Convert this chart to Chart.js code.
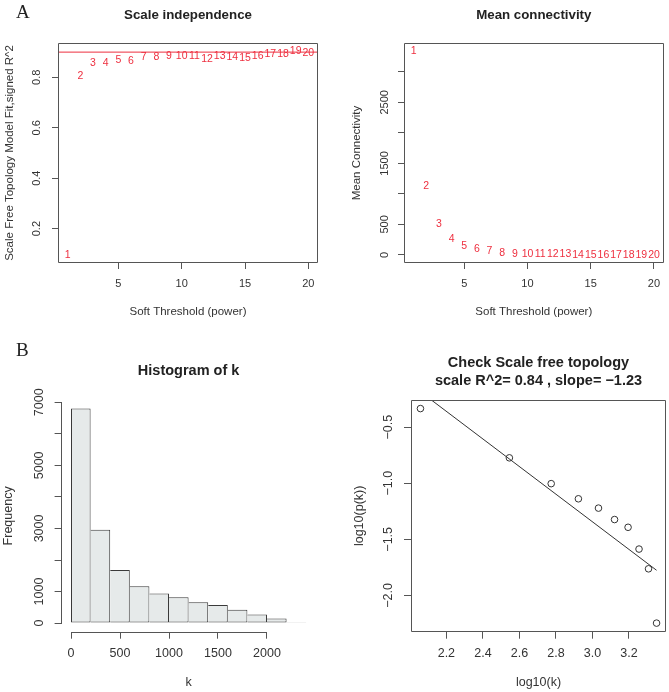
<!DOCTYPE html>
<html>
<head>
<meta charset="utf-8">
<script src="https://cdn.jsdelivr.net/npm/chart.js@4.4.1/dist/chart.umd.min.js"></script>
<style>
  html, body { margin: 0; padding: 0; background: #fff; }
  #fig { position: relative; width: 669px; height: 692px; overflow: hidden; }
  #fig canvas { position: absolute; }
  .tag { position: absolute; font-family: "Liberation Serif", "DejaVu Serif", serif; font-size: 19px; line-height: 19px; color: #222; }
</style>
</head>
<body>
<div id="fig">
  <canvas id="c1" width="335" height="330" style="left:0;top:0"></canvas>
  <canvas id="c2" width="334" height="330" style="left:335px;top:0"></canvas>
  <canvas id="c3" width="335" height="362" style="left:0;top:330px"></canvas>
  <canvas id="c4" width="334" height="362" style="left:335px;top:330px"></canvas>
  <div class="tag" style="left:16px;top:2px">A</div>
  <div class="tag" style="left:16px;top:340px">B</div>
</div>
<script>
// soft threshold powers tested
const powers = [1, 2, 3, 4, 5, 6, 7, 8, 9, 10, 11, 12, 13, 14, 15, 16, 17, 18, 19, 20];
// scale free fit index (signed R^2) per power
const sftR2 = [0.096, 0.804, 0.858, 0.856, 0.868, 0.864, 0.880, 0.881, 0.884, 0.883,
               0.885, 0.872, 0.883, 0.880, 0.876, 0.885, 0.892, 0.894, 0.904, 0.898];
const r2Cutoff = 0.90;
// mean connectivity per power
const meanK = [3340, 1131, 508, 262, 148, 98, 60, 38, 21, 15,
               11, 8, 6, 5, 4, 3, 2.5, 2, 1.7, 1.4];

// histogram of k
const histBreaks = [0, 200, 400, 600, 800, 1000, 1200, 1400, 1600, 1800, 2000, 2200, 2400];
const histCounts = [6800, 2960, 1684, 1172, 937, 820, 661, 575, 426, 277, 149, 30];

// scale free topology check
const logK = [2.058, 2.545, 2.774, 2.923, 3.033, 3.121, 3.195, 3.255, 3.307, 3.351];
const logPk = [-0.335, -0.774, -1.004, -1.139, -1.222, -1.324, -1.393, -1.587, -1.763, -2.247];
const fitX = [2.058, 3.351];
const fitY = [-0.185, -1.776];
const fitR2 = 0.84;
const fitSlope = -1.23;

// ticks
const sftXTicks = [5, 10, 15, 20];
const sftXLabels = ['5', '10', '15', '20'];
const sftYTicks = [0.2, 0.4, 0.6, 0.8];
const sftYLabels = ['0.2', '0.4', '0.6', '0.8'];
const kYTicks = [0, 500, 1000, 1500, 2000, 2500, 3000];
const kYLabels = ['0', '500', '', '1500', '', '2500', ''];
const histXTicks = [0, 500, 1000, 1500, 2000];
const histXLabels = ['0', '500', '1000', '1500', '2000'];
const histYTicks = [0, 1000, 2000, 3000, 4000, 5000, 6000, 7000];
const histYLabels = ['0', '1000', '', '3000', '', '5000', '', '7000'];
const logKTicks = [2.2, 2.4, 2.6, 2.8, 3.0, 3.2];
const logKLabels = ['2.2', '2.4', '2.6', '2.8', '3.0', '3.2'];
const logPkTicks = [-0.5, -1.0, -1.5, -2.0];
const logPkLabels = ['\u22120.5', '\u22121.0', '\u22121.5', '\u22122.0'];

const FONT = '"Liberation Sans", Arial, Helvetica, sans-serif';
const RED = '#ee2f3f';
const AXIS = '#555';
const INK = '#333';
Chart.defaults.font.family = FONT;
Chart.defaults.color = INK;
Chart.defaults.animation = false;

// R style limits: data range plus 4 % each side
function padRange(v) {
  const lo = Math.min(...v), hi = Math.max(...v), d = (hi - lo) * 0.04;
  return [lo - d, hi + d];
}

function rScale(o) {
  const vertical = o.vertical;
  return {
    type: 'linear',
    position: vertical ? 'left' : 'bottom',
    min: o.range[0],
    max: o.range[1],
    offset: false,
    afterFit: s => { if (vertical) s.width = o.size; else s.height = o.size; },
    afterBuildTicks: s => { s.ticks = o.ticks.map(v => ({ value: v })); },
    border: { display: false },
    grid: { display: true, offset: false, drawOnChartArea: false, drawTicks: true,
            tickLength: o.tickLen, color: AXIS, lineWidth: 1 },
    ticks: {
      autoSkip: false,
      padding: o.pad,
      color: INK,
      font: { size: o.font },
      minRotation: vertical ? 90 : 0,
      maxRotation: vertical ? 90 : 0,
      crossAlign: vertical ? 'center' : 'near',
      callback: (v, i) => o.labels[i]
    },
    title: {
      display: true, text: o.title, color: INK,
      font: { size: o.titleFont, lineHeight: 1.2 },
      padding: vertical ? { top: o.titlePad, bottom: 0 } : { top: 0, bottom: o.titlePad }
    }
  };
}

function rTitle(text, size, pt, pb) {
  return { display: true, text: text, fullSize: false, color: '#222',
           font: { size: size, weight: 'bold', lineHeight: 1.2 },
           padding: { top: pt, bottom: pb } };
}

// box round the plot, or R axis lines that stop at the outer ticks
function makeFrame(box) {
  return {
    id: 'rFrame',
    afterDraw(chart) {
      const { ctx, chartArea: a } = chart;
      const x = chart.scales.x, y = chart.scales.y;
      ctx.save();
      ctx.strokeStyle = AXIS;
      ctx.lineWidth = 1;
      ctx.beginPath();
      if (box) {
        ctx.rect(Math.round(a.left) + 0.5, Math.round(a.top) + 0.5,
                 Math.round(a.right - a.left) - 1, Math.round(a.bottom - a.top) - 1);
      } else {
        const by = Math.round(a.bottom) + 0.5, lx = Math.round(a.left) - 0.5;
        ctx.moveTo(x.getPixelForValue(x.ticks[0].value), by);
        ctx.lineTo(x.getPixelForValue(x.ticks[x.ticks.length - 1].value), by);
        ctx.moveTo(lx, y.getPixelForValue(y.ticks[0].value));
        ctx.lineTo(lx, y.getPixelForValue(y.ticks[y.ticks.length - 1].value));
      }
      ctx.stroke();
      ctx.restore();
    }
  };
}

// numbers written at the points instead of symbols
function makePointText(labels) {
  return {
    id: 'pointText',
    afterDatasetsDraw(chart) {
      const ctx = chart.ctx;
      const meta = chart.getDatasetMeta(0);
      ctx.save();
      ctx.fillStyle = RED;
      ctx.font = '10.5px ' + FONT;
      ctx.textAlign = 'center';
      ctx.textBaseline = 'middle';
      meta.data.forEach((el, i) => ctx.fillText(String(labels[i]), el.x, el.y));
      ctx.restore();
    }
  };
}

const baseOpts = {
  responsive: false,
  events: [],
  layout: { autoPadding: false }
};

// A left: scale independence
const sftX = padRange(powers);
new Chart(document.getElementById('c1'), {
  type: 'scatter',
  data: {
    datasets: [
      { data: powers.map((p, i) => ({ x: p, y: sftR2[i] })), pointRadius: 0 },
      { type: 'line', data: [{ x: sftX[0], y: r2Cutoff }, { x: sftX[1], y: r2Cutoff }],
        borderColor: RED, borderWidth: 1, pointRadius: 0, showLine: true }
    ]
  },
  options: Object.assign({}, baseOpts, {
    layout: { autoPadding: false, padding: { left: 0, top: 0, right: 17, bottom: 0 } },
    plugins: {
      legend: { display: false }, tooltip: { enabled: false },
      title: rTitle('Scale independence', 13.3, 7, 20)
    },
    scales: {
      x: rScale({ range: sftX, ticks: sftXTicks, labels: sftXLabels, size: 67, tickLen: 6,
                  pad: 8.7, font: 11, title: 'Soft Threshold (power)', titleFont: 11.5, titlePad: 10.8 }),
      y: rScale({ vertical: true, range: padRange(sftR2), ticks: sftYTicks, labels: sftYLabels, size: 58,
                  tickLen: 6, pad: 7, font: 11, title: 'Scale Free Topology Model Fit,signed R^2',
                  titleFont: 11.5, titlePad: 3.1 })
    }
  }),
  plugins: [makeFrame(true), makePointText(powers)]
});

// A right: mean connectivity
new Chart(document.getElementById('c2'), {
  type: 'scatter',
  data: {
    datasets: [
      { data: powers.map((p, i) => ({ x: p, y: meanK[i] })), pointRadius: 0 }
    ]
  },
  options: Object.assign({}, baseOpts, {
    layout: { autoPadding: false, padding: { left: 0, top: 0, right: 4, bottom: 0 } },
    plugins: {
      legend: { display: false }, tooltip: { enabled: false },
      title: rTitle('Mean connectivity', 13.3, 7, 20)
    },
    scales: {
      x: rScale({ range: sftX, ticks: sftXTicks, labels: sftXLabels, size: 67, tickLen: 6,
                  pad: 8.7, font: 11, title: 'Soft Threshold (power)', titleFont: 11.5, titlePad: 10.8 }),
      y: rScale({ vertical: true, range: padRange(meanK), ticks: kYTicks, labels: kYLabels, size: 69,
                  tickLen: 6, pad: 0.8, font: 11, title: 'Mean Connectivity',
                  titleFont: 11.5, titlePad: 15.1 })
    }
  }),
  plugins: [makeFrame(true), makePointText(powers)]
});

// B left: histogram of k
const binMid = histCounts.map((c, i) => (histBreaks[i] + histBreaks[i + 1]) / 2);
new Chart(document.getElementById('c3'), {
  type: 'bar',
  data: {
    datasets: [{
      data: histCounts.map((c, i) => ({ x: binMid[i], y: c })),
      backgroundColor: '#e6eaea',
      borderColor: '#3a3a3a',
      borderWidth: c => ({ left: c.dataIndex === 0 ? 1 : 0, right: 1, top: 1, bottom: 1 }),
      borderSkipped: false,
      inflateAmount: 0,
      barPercentage: 1,
      categoryPercentage: 1
    }]
  },
  options: Object.assign({}, baseOpts, {
    layout: { autoPadding: false, padding: { left: 0, top: 0, right: 19.4, bottom: 0 } },
    plugins: {
      legend: { display: false }, tooltip: { enabled: false },
      title: rTitle('Histogram of k', 14.5, 32.6, 20)
    },
    scales: {
      x: rScale({ range: padRange(histBreaks), ticks: histXTicks, labels: histXLabels, size: 60.3,
                  tickLen: 7, pad: 7.1, font: 12.5, title: 'k', titleFont: 12.5, titlePad: 2 }),
      y: rScale({ vertical: true, range: padRange([0].concat(histCounts)), ticks: histYTicks,
                  labels: histYLabels, size: 61.6, tickLen: 7, pad: 0.7, font: 12.5,
                  title: 'Frequency', titleFont: 12.5, titlePad: 1.5 })
    }
  }),
  plugins: [makeFrame(false)]
});

// B right: scale free topology check
new Chart(document.getElementById('c4'), {
  type: 'scatter',
  data: {
    datasets: [
      { data: logK.map((v, i) => ({ x: v, y: logPk[i] })), pointStyle: 'circle', pointRadius: 3.3,
        borderColor: INK, borderWidth: 1, backgroundColor: 'rgba(0,0,0,0)' },
      { type: 'line', data: fitX.map((v, i) => ({ x: v, y: fitY[i] })), borderColor: INK,
        borderWidth: 1, pointRadius: 0, showLine: true }
    ]
  },
  options: Object.assign({}, baseOpts, {
    layout: { autoPadding: false, padding: { left: 0, top: 0, right: 3, bottom: 0 } },
    plugins: {
      legend: { display: false }, tooltip: { enabled: false },
      title: rTitle(['Check Scale free topology',
                     'scale R^2= ' + fitR2.toFixed(2) + ' , slope= \u2212' + Math.abs(fitSlope).toFixed(2)],
                    14.5, 24.6, 10.6)
    },
    scales: {
      x: rScale({ range: padRange(logK), ticks: logKTicks, labels: logKLabels, size: 60.3,
                  tickLen: 7, pad: 7.1, font: 12.5, title: 'log10(k)', titleFont: 12.5, titlePad: 2 }),
      y: rScale({ vertical: true, range: padRange(logPk), ticks: logPkTicks, labels: logPkLabels,
                  size: 76, tickLen: 7, pad: 3, font: 12.5, title: 'log10(p(k))',
                  titleFont: 12.5, titlePad: 17.5 })
    }
  }),
  plugins: [makeFrame(true)]
});
</script>
</body>
</html>
